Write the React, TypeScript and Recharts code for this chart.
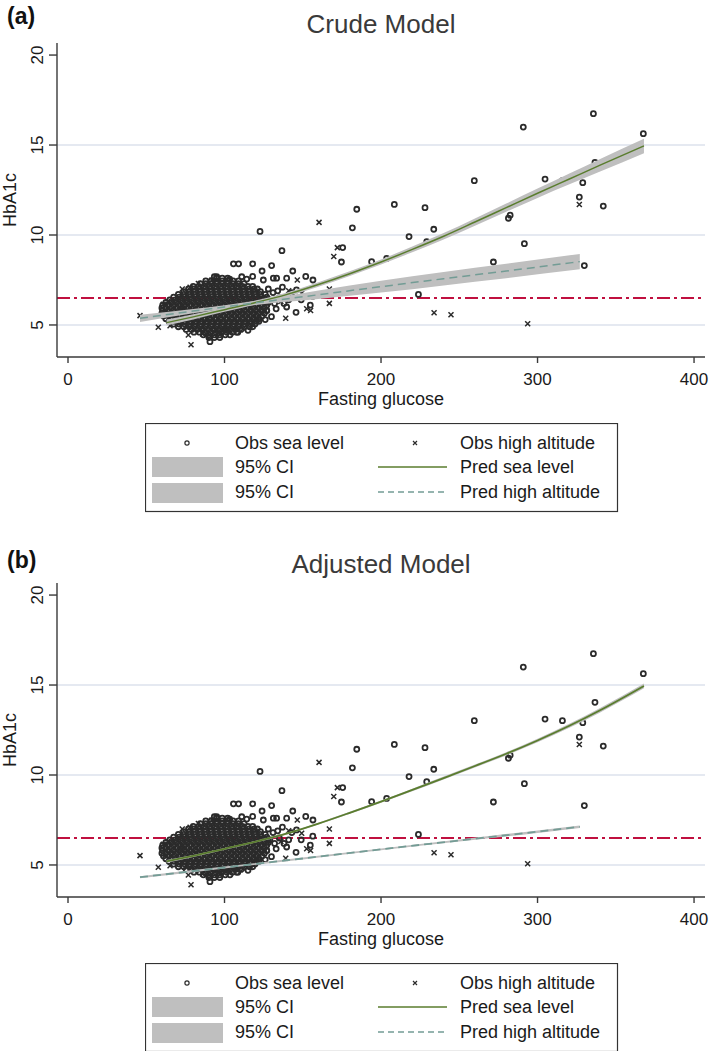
import React from 'react';
import { ComposedChart, Scatter, Line, Area, XAxis, YAxis, ReferenceLine, Label } from 'recharts';

const FONT = '"Liberation Sans", Arial, Helvetica, sans-serif';
const INK = '#1a1a1a';
const MARK = '#2b2b2b';
const GREEN = '#5a7d2e';
const TEAL = '#739c95';
const BAND = '#bfbfbf';
const RED = '#c0103f';
const GRID = '#dde2ec';

// observations, same in both panels
const seaOutliers: [number, number][] = [
  [367.6, 15.63], [335.7, 16.74], [290.9, 16.0], [336.7, 14.04], [304.8, 13.11], [315.9, 13.02],
  [328.9, 12.91], [326.7, 12.11], [342, 11.61], [259.6, 13.02], [208.5, 11.7], [228.1, 11.52],
  [233.7, 10.32], [217.9, 9.91], [229.2, 9.63], [281.4, 10.93], [282.5, 11.1], [291.6, 9.52],
  [271.8, 8.5], [329.9, 8.3], [194, 8.52], [203.6, 8.7], [223.9, 6.7], [184.5, 11.43],
  [181.7, 10.4], [175.5, 9.3], [174.7, 8.5], [136.7, 9.13], [122.7, 10.2], [105.7, 8.4],
  [109, 8.4], [118, 8.4], [130.1, 8.3], [124, 8.0], [143.6, 8.0], [151.9, 7.7], [156.5, 7.5],
  [139.7, 7.6], [131.2, 7.6], [133.3, 7.6], [154.8, 6.1], [145.7, 5.7], [139.7, 6.0], [130, 5.46],
  [156.4, 6.6], [93.5, 7.68], [95, 7.68], [103.3, 7.54], [111, 7.68], [114.2, 7.55], [118, 7.7],
  [124.8, 7.5], [90.7, 4.07], [90.7, 4.35], [107.8, 4.6], [96.7, 4.67], [101.8, 4.77],
  [128, 7.0], [131, 6.8], [134, 6.9], [137, 7.1], [129, 6.4], [132, 6.2], [135, 6.5], [138, 6.2],
  [141, 6.4], [127, 5.8], [133, 5.9], [143, 6.8], [146, 6.95], [149, 6.4], [118, 4.9], [122, 5.2],
  [115, 4.7], [126, 5.3],
];

// the dense cloud of sea level observations, one row per HbA1c level
const seaCloudRows: [number, number[]][] = [
  [7.6, [95, 98.5, 102]],
  [7.45, [88, 91.5, 95, 98.5, 102, 105.5, 109]],
  [7.3, [84.5, 88, 91.5, 95, 98.5, 102, 105.5, 109, 112.5]],
  [7.15, [80, 83.5, 87, 90.5, 94, 97.5, 101, 104.5, 108, 111.5, 115, 118]],
  [7.0, [77, 80.5, 84, 87.5, 91, 94.5, 98, 101.5, 105, 108.5, 112, 115.5, 119, 121]],
  [6.85, [74, 77.5, 81, 84.5, 88, 91.5, 95, 98.5, 102, 105.5, 109, 112.5, 116, 119.5, 123]],
  [6.7, [70.5, 74, 77.5, 81, 84.5, 88, 91.5, 95, 98.5, 102, 105.5, 109, 112.5, 116, 119.5, 123, 126]],
  [6.55, [67.5, 71, 74.5, 78, 81.5, 85, 88.5, 92, 95.5, 99, 102.5, 106, 109.5, 113, 116.5, 120, 123.5, 127]],
  [6.4, [65, 68.5, 72, 75.5, 79, 82.5, 86, 89.5, 93, 96.5, 100, 103.5, 107, 110.5, 114, 117.5, 121, 124.5, 128]],
  [6.25, [62.5, 66, 69.5, 73, 76.5, 80, 83.5, 87, 90.5, 94, 97.5, 101, 104.5, 108, 111.5, 115, 118.5, 122, 125.5, 128]],
  [6.1, [60.5, 64, 67.5, 71, 74.5, 78, 81.5, 85, 88.5, 92, 95.5, 99, 102.5, 106, 109.5, 113, 116.5, 120, 123.5, 127]],
  [5.95, [60, 62.5, 66, 69.5, 73, 76.5, 80, 83.5, 87, 90.5, 94, 97.5, 101, 104.5, 108, 111.5, 115, 118.5, 122, 125.5]],
  [5.8, [60.5, 64, 67.5, 71, 74.5, 78, 81.5, 85, 88.5, 92, 95.5, 99, 102.5, 106, 109.5, 113, 116.5, 120, 123.5, 127]],
  [5.65, [60, 62.5, 66, 69.5, 73, 76.5, 80, 83.5, 87, 90.5, 94, 97.5, 101, 104.5, 108, 111.5, 115, 118.5, 122, 125.5]],
  [5.5, [61, 64.5, 68, 71.5, 75, 78.5, 82, 85.5, 89, 92.5, 96, 99.5, 103, 106.5, 110, 113.5, 117, 120.5, 124]],
  [5.35, [62.5, 66, 69.5, 73, 76.5, 80, 83.5, 87, 90.5, 94, 97.5, 101, 104.5, 108, 111.5, 115, 118.5, 122]],
  [5.2, [64.5, 68, 71.5, 75, 78.5, 82, 85.5, 89, 92.5, 96, 99.5, 103, 106.5, 110, 113.5, 117, 120.5]],
  [5.05, [67.5, 71, 74.5, 78, 81.5, 85, 88.5, 92, 95.5, 99, 102.5, 106, 109.5, 113, 116.5, 119.5]],
  [4.9, [70.5, 74, 77.5, 81, 84.5, 88, 91.5, 95, 98.5, 102, 105.5, 109, 112.5, 116]],
  [4.75, [75.5, 79, 82.5, 86, 89.5, 93, 96.5, 100, 103.5, 107, 110.5]],
  [4.6, [80.5, 84, 87.5, 91, 94.5, 98, 101.5, 105, 108.5]],
  [4.45, [86.5, 90, 93.5, 97, 100.5, 103.5]],
  [4.3, [90, 93.5, 97]],
];

const altObs: [number, number][] = [
  [326.7, 11.7], [233.9, 5.68], [244.7, 5.57], [293.7, 5.07], [160.4, 10.7], [172.1, 9.3],
  [169.8, 8.8], [167, 7.0], [167, 6.2], [155, 5.8], [149.3, 6.76], [139.1, 5.37], [146.5, 7.5],
  [152.5, 5.9], [46, 5.52], [57.7, 4.87], [78.6, 3.9], [76.9, 4.44], [65.2, 4.96], [73, 7.0],
  [78, 7.1], [83.3, 7.3], [60.9, 6.15], [63.7, 6.3], [72.6, 5.93], [141, 6.9], [136, 6.3],
  [120, 5.3], [112, 4.8], [86, 4.5], [92, 7.5],
];

// fitted values: [glucose, fit, lower 95%, upper 95%]
const crudeSea: [number, number, number, number][] = [
  [63, 5.13, 4.97, 5.3], [80, 5.45, 5.31, 5.59], [100, 5.85, 5.73, 5.97], [120, 6.25, 6.14, 6.36],
  [140, 6.7, 6.59, 6.81], [160, 7.25, 7.13, 7.37], [180, 7.85, 7.72, 7.98], [200, 8.5, 8.36, 8.64],
  [220, 9.2, 9.04, 9.36], [240, 9.93, 9.75, 10.11], [260, 10.72, 10.52, 10.92], [280, 11.52, 11.29, 11.75],
  [300, 12.32, 12.06, 12.58], [320, 13.1, 12.8, 13.4], [340, 13.88, 13.53, 14.23], [368, 14.95, 14.55, 15.35],
];
const crudeAlt: [number, number, number, number][] = [
  [46, 5.37, 5.17, 5.57], [80, 5.77, 5.65, 5.89], [100, 6.0, 5.9, 6.1], [120, 6.23, 6.11, 6.35],
  [160, 6.68, 6.44, 6.92], [200, 7.13, 6.8, 7.46], [240, 7.57, 7.2, 7.94], [280, 8.0, 7.6, 8.4],
  [327, 8.52, 8.09, 8.95],
];
const adjSea: [number, number, number, number][] = [
  [63, 5.2, 5.12, 5.28], [80, 5.5, 5.44, 5.56], [100, 5.9, 5.85, 5.95], [120, 6.3, 6.25, 6.35],
  [140, 6.75, 6.7, 6.8], [160, 7.3, 7.25, 7.35], [180, 7.9, 7.84, 7.96], [200, 8.52, 8.46, 8.58],
  [220, 9.17, 9.1, 9.24], [240, 9.83, 9.75, 9.91], [260, 10.5, 10.42, 10.58], [280, 11.18, 11.09, 11.27],
  [300, 11.92, 11.82, 12.02], [320, 12.72, 12.61, 12.83], [340, 13.6, 13.48, 13.72], [368, 14.95, 14.82, 15.08],
];
const adjAlt: [number, number, number, number][] = [
  [46, 4.32, 4.26, 4.38], [100, 4.86, 4.81, 4.91], [150, 5.36, 5.31, 5.41], [200, 5.87, 5.82, 5.92],
  [250, 6.36, 6.3, 6.42], [300, 6.85, 6.78, 6.92], [327, 7.12, 7.05, 7.19],
];

const xTicks = [0, 100, 200, 300, 400];
const yTicks = [5, 10, 15, 20];
const gridLevels = [5, 10, 15];
const diabetesCut = 6.5;

const toPts = (arr: [number, number][]) => arr.map(([x, y]) => ({ x, y }));
const seaPts = [
  ...seaCloudRows.flatMap(([y, xs]) => xs.map((x) => ({ x, y }))),
  ...toPts(seaOutliers),
];
const altPts = toPts(altObs);
const fitPts = (arr: [number, number, number, number][]) =>
  arr.map(([x, y, lo, hi]) => ({ x, y, lo, hi }));

const Ring = (p: any) => (
  <circle cx={p.cx} cy={p.cy} r={2.5} fill="none" stroke={MARK} strokeWidth={1.8} />
);
const Cross = (p: any) => {
  const s = 2.5;
  return (
    <path
      d={`M${p.cx - s},${p.cy - s}L${p.cx + s},${p.cy + s}M${p.cx - s},${p.cy + s}L${p.cx + s},${p.cy - s}`}
      stroke={MARK}
      strokeWidth={1.5}
      fill="none"
    />
  );
};

const YTick = (props: any) => {
  const { x, y, payload } = props;
  const bx = x - 4;
  return (
    <text x={bx} y={y} transform={`rotate(-90 ${bx} ${y})`} textAnchor="middle"
      fontSize={17} fill={INK} fontFamily={FONT}>
      {payload.value}
    </text>
  );
};

const YTitle = (props: any) => {
  const vb = props.viewBox;
  const x = vb.x + 16;
  const y = vb.y + vb.height / 2;
  return (
    <text x={x} y={y} transform={`rotate(-90 ${x} ${y})`} textAnchor="middle"
      fontSize={18} fill={INK} fontFamily={FONT}>
      HbA1c
    </text>
  );
};

const LegendBox = () => (
  <svg width={474} height={90} style={{ position: 'absolute', left: 145, top: 423 }}
    fontFamily={FONT} fontSize={18} fill={INK}>
    <rect x={0.5} y={0.5} width={472} height={88} fill="#fff" stroke="#333" strokeWidth={1.2} />
    <circle cx={42} cy={20} r={2.1} fill="none" stroke={MARK} strokeWidth={1.2} />
    <text x={90} y={26}>Obs sea level</text>
    <rect x={7} y={34} width={71} height={20} fill={BAND} />
    <text x={90} y={50}>95% CI</text>
    <rect x={7} y={60} width={71} height={20} fill={BAND} />
    <text x={90} y={75}>95% CI</text>
    <path d="M268,18L272,22M268,22L272,18" stroke={MARK} strokeWidth={1.2} />
    <text x={315} y={26}>Obs high altitude</text>
    <line x1={233} x2={302} y1={44} y2={44} stroke={GREEN} strokeWidth={1.3} />
    <text x={315} y={50}>Pred sea level</text>
    <line x1={233} x2={302} y1={69} y2={69} stroke={TEAL} strokeWidth={1.3} strokeDasharray="6 4" />
    <text x={315} y={75}>Pred high altitude</text>
  </svg>
);

interface PanelProps {
  top: number;
  tag: string;
  tagY: number;
  title: string;
  sea: [number, number, number, number][];
  alt: [number, number, number, number][];
  lineWidth: number;
}

const Panel: React.FC<PanelProps> = ({ top, tag, tagY, title, sea, alt, lineWidth }) => {
  const seaFit = fitPts(sea);
  const altFit = fitPts(alt);
  const axisStyle = { stroke: '#3a3a3a', strokeWidth: 1.4 };
  // draw order: grid, cut-off line, observations, bands, fitted lines
  const z: any = { grid: 10, cut: 20, obs: 30, band: 40, fit: 50 };
  return (
    <div style={{ position: 'absolute', left: 0, top, width: 709, height: 540 }}>
      <svg width={709} height={45} style={{ position: 'absolute', left: 0, top: 0 }} fontFamily={FONT}>
        <text x={7} y={tagY} fontSize={23} fontWeight="bold" fill="#111">{tag}</text>
        <text x={381} y={33} fontSize={26} textAnchor="middle" fill="#3a3a3a">{title}</text>
      </svg>
      <div style={{ position: 'absolute', left: 0, top: 0 }}>
        <ComposedChart width={709} height={409} margin={{ top: 43, right: 4, left: 0, bottom: 0 }}>
          <XAxis type="number" dataKey="x" domain={[-7.03, 407]} ticks={xTicks} allowDataOverflow
            height={52} tickSize={6} tickMargin={10} axisLine={axisStyle} tickLine={axisStyle}
            tick={{ fontSize: 17, fill: INK, fontFamily: FONT }}
            label={{ value: 'Fasting glucose', position: 'insideBottom', offset: 4, fontSize: 18, fill: INK, fontFamily: FONT }} />
          <YAxis type="number" dataKey="y" domain={[3.22, 20.67]} ticks={yTicks} allowDataOverflow
            width={57} tickSize={8} axisLine={axisStyle} tickLine={axisStyle} tick={YTick}>
            <Label content={YTitle} />
          </YAxis>
          {gridLevels.map((g) => (
            <ReferenceLine key={g} y={g} stroke={GRID} strokeWidth={1.5} zIndex={z.grid} />
          ))}
          <ReferenceLine y={diabetesCut} stroke={RED} strokeWidth={2} strokeDasharray="13 4 3 4" zIndex={z.cut} />
          <Scatter data={seaPts} dataKey="y" shape={Ring} isAnimationActive={false} zIndex={z.obs} />
          <Scatter data={altPts} dataKey="y" shape={Cross} isAnimationActive={false} zIndex={z.obs} />
          <Area data={seaFit} dataKey={(d: any) => [d.lo, d.hi]} type="monotone" stroke="none"
            fill={BAND} fillOpacity={1} isAnimationActive={false} zIndex={z.band} />
          <Area data={altFit} dataKey={(d: any) => [d.lo, d.hi]} type="monotone" stroke="none"
            fill={BAND} fillOpacity={1} isAnimationActive={false} zIndex={z.band} />
          <Line data={seaFit} dataKey="y" type="monotone" stroke={GREEN} strokeWidth={lineWidth}
            dot={false} isAnimationActive={false} zIndex={z.fit} />
          <Line data={altFit} dataKey="y" type="monotone" stroke={TEAL} strokeWidth={lineWidth}
            strokeDasharray="8 5" dot={false} isAnimationActive={false} zIndex={z.fit} />
        </ComposedChart>
      </div>
      <LegendBox />
    </div>
  );
};

export default function App() {
  return (
    <div style={{ position: 'absolute', left: 0, top: 0, width: 709, height: 1051, overflow: 'hidden', background: '#fff' }}>
      <Panel top={0} tag="(a)" tagY={24} title="Crude Model" sea={crudeSea} alt={crudeAlt} lineWidth={1.5} />
      <Panel top={540} tag="(b)" tagY={28} title="Adjusted Model" sea={adjSea} alt={adjAlt} lineWidth={1.8} />
    </div>
  );
}
